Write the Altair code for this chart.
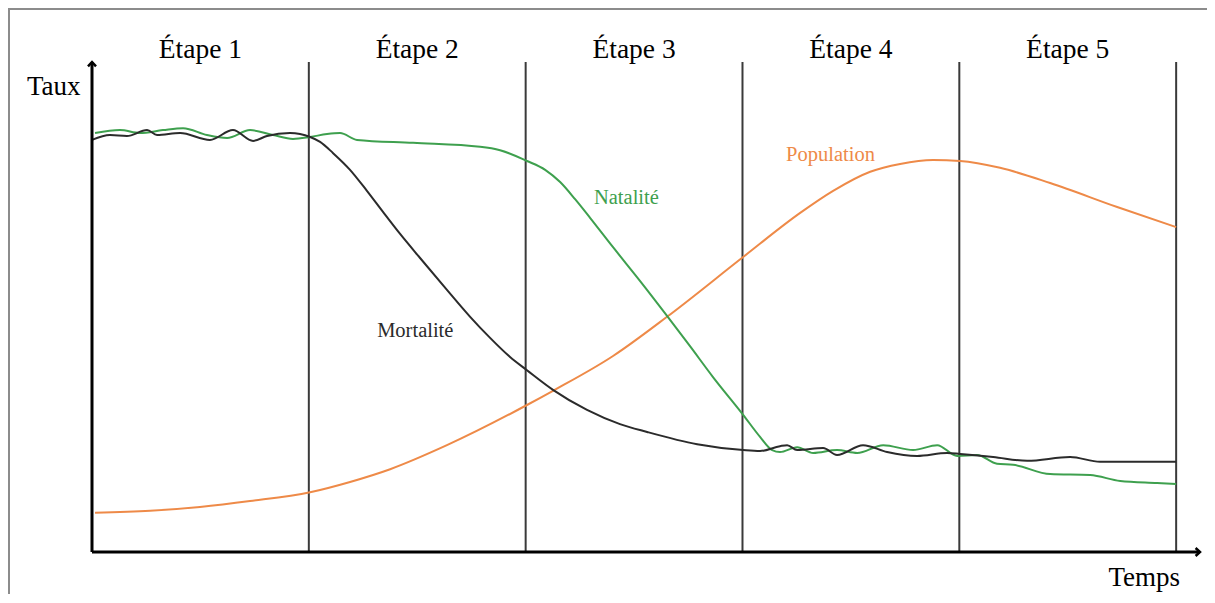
import altair as alt
import pandas as pd

# Time axis: each stage = 100 units (0..500), rate axis 0..100
mort_t = [0, 8.3, 16.1, 25.4, 30.0, 40.6, 54.4, 65.0, 74.3, 80.7, 91.3, 100.6, 105.2, 111.2,
          119.0, 126.8, 134.2, 142.1, 151.3, 163.7, 174.4, 183.6, 192.8, 200.6, 212.6, 228.3,
          243.5, 256.0, 279.1, 300.3, 308.1, 317.3, 320.6, 325.2, 337.2, 343.6, 355.6, 366.7,
          380.5, 394.4, 400.4, 415.6, 431.3, 451.1, 464.9, 500]
mort_v = [84.1, 85.1, 84.9, 86.1, 85.1, 85.5, 84.1, 86.1, 83.9, 84.9, 85.5, 84.7, 83.7, 81.4,
          78.0, 73.7, 69.4, 64.9, 60.0, 53.5, 48.0, 43.7, 39.8, 37.1, 33.1, 29.0,
          26.1, 24.5, 22.0, 20.8, 20.6, 21.6, 21.8, 20.8, 21.2, 19.8, 21.8, 20.4,
          19.6, 20.2, 20.0, 19.4, 18.6, 19.4, 18.4, 18.4]

nat_t = [1.4, 12.9, 22.1, 32.7, 42.0, 53.0, 62.3, 72.9, 83.5, 92.7, 100.6, 108.4, 114.4, 122.2,
         148.1, 179.0, 188.2, 200.6, 209.0, 215.9, 222.8, 229.7, 240.3, 252.8, 265.2, 275.8,
         286.4, 300.3, 308.1, 313.7, 317.3, 325.2, 332.6, 343.6, 352.9, 364.9, 378.7, 389.8,
         399.0, 408.2, 417.4, 424.8, 441.9, 460.3, 474.2, 491.2, 500]
nat_v = [85.5, 86.1, 85.5, 86.1, 86.5, 85.1, 84.5, 86.1, 85.1, 84.3, 84.7, 85.3, 85.5, 84.1,
         83.5, 82.7, 82.0, 79.8, 78.0, 75.5, 72.0, 68.2, 62.2, 55.3, 48.2, 42.0,
         35.7, 28.0, 23.5, 20.8, 20.4, 21.4, 20.2, 20.8, 20.2, 21.8, 20.8, 21.8,
         19.6, 19.8, 18.0, 17.8, 15.9, 15.7, 14.5, 14.1, 13.9]

pop_t = [1.4, 26.8, 49.8, 72.9, 100.6, 119.0, 137.5, 163.7, 200.6, 212.6, 240.3, 265.2,
         300.3, 326.6, 341.8, 358.9, 372.7, 387.9, 400.4, 418.8, 441.9, 472.8, 500]
pop_v = [8.0, 8.4, 9.2, 10.4, 12.2, 14.3, 16.9, 21.8, 30.0, 32.9, 40.0, 48.0,
         60.2, 69.2, 73.7, 77.6, 79.2, 80.0, 79.8, 78.4, 75.3, 70.4, 66.3]

stage_bounds = [100, 200, 300, 400, 500]
stage_centers = [50, 150, 250, 350, 450]
stage_labels = ["Étape 1", "Étape 2", "Étape 3", "Étape 4", "Étape 5"]

series_labels = ["Mortalité", "Natalité", "Population"]
series_label_t = [131.5, 231.5, 320.1]
series_label_v = [43.9, 71.0, 79.8]
series_colors = ["#2b2b2b", "#3ea04e", "#ee8a48"]

X_MAX = 511
Y_MAX = 100
FONT = "Liberation Serif"

xs = alt.Scale(domain=[0, X_MAX], nice=False, zero=False)
ys = alt.Scale(domain=[0, Y_MAX], nice=False, zero=False)


def X(f="t"):
    return alt.X(f"{f}:Q", scale=xs, axis=None)


def Y(f="v"):
    return alt.Y(f"{f}:Q", scale=ys, axis=None)


def curve(ts, vs, color):
    df = pd.DataFrame({"t": ts, "v": vs})
    return alt.Chart(df).mark_line(color=color, strokeWidth=2, interpolate="monotone").encode(
        x=X(), y=Y(), order="t:Q")


# stage separators
sep_df = pd.DataFrame({"t": stage_bounds, "v0": [0] * 5, "v1": [Y_MAX] * 5})
seps = alt.Chart(sep_df).mark_rule(color="#3a3a3a", strokeWidth=2).encode(
    x=X(), y=Y("v0"), y2="v1:Q")

# axes with arrows
yaxis_df = pd.DataFrame({"t": [0], "v0": [0], "v1": [Y_MAX]})
yaxis = alt.Chart(yaxis_df).mark_rule(color="black", strokeWidth=3).encode(
    x=X(), y=Y("v0"), y2="v1:Q")
xaxis_df = pd.DataFrame({"t0": [0], "t1": [X_MAX], "v": [0]})
xaxis = alt.Chart(xaxis_df).mark_rule(color="black", strokeWidth=3).encode(
    x=X("t0"), x2="t1:Q", y=Y())

up_df = pd.DataFrame({"t": [0], "v": [Y_MAX]})
up_arrow = alt.Chart(up_df).mark_point(
    shape="M-1,1.1 L0,0 L1,1.1", filled=False, color="black", strokeWidth=2.5,
    size=64, opacity=1).encode(x=X(), y=Y())
right_df = pd.DataFrame({"t": [X_MAX], "v": [0]})
right_arrow = alt.Chart(right_df).mark_point(
    shape="M-1.1,-1 L0,0 L-1.1,1", filled=False, color="black", strokeWidth=2.5,
    size=64, opacity=1).encode(x=X(), y=Y())

# stage titles
st_df = pd.DataFrame({"t": stage_centers, "v": [100.8] * 5, "label": stage_labels})
stage_text = alt.Chart(st_df).mark_text(
    font=FONT, fontSize=27.5, align="center", baseline="alphabetic", color="black").encode(
    x=X(), y=Y(), text="label:N")

# axis titles
ax_df = pd.DataFrame({"t": [-30.0], "v": [93.3], "label": ["Taux"]})
taux = alt.Chart(ax_df).mark_text(
    font=FONT, fontSize=27, align="left", baseline="alphabetic", color="black").encode(
    x=X(), y=Y(), text="label:N")
tx_df = pd.DataFrame({"t": [501.8], "v": [-7.0], "label": ["Temps"]})
temps = alt.Chart(tx_df).mark_text(
    font=FONT, fontSize=27, align="right", baseline="alphabetic", color="black").encode(
    x=X(), y=Y(), text="label:N")

# series labels
lab_df = pd.DataFrame({"t": series_label_t, "v": series_label_v,
                       "label": series_labels, "c": series_colors})
labels = alt.Chart(lab_df).mark_text(
    font=FONT, fontSize=20.5, align="left", baseline="alphabetic").encode(
    x=X(), y=Y(), text="label:N",
    color=alt.Color("c:N", scale=None, legend=None))

# outer frame (decorative border of the original picture)
frame_top = alt.Chart(up_df).mark_rule(color="#8c8c8c", strokeWidth=2).encode(
    x=alt.value(-84), x2=alt.value(1115), y=alt.value(-53))
frame_left = alt.Chart(up_df).mark_rule(color="#8c8c8c", strokeWidth=2).encode(
    x=alt.value(-83), y=alt.value(-54), y2=alt.value(540))

chart = alt.layer(
    frame_top, frame_left,
    seps,
    curve(pop_t, pop_v, series_colors[2]),
    curve(nat_t, nat_v, series_colors[1]),
    curve(mort_t, mort_v, series_colors[0]),
    yaxis, xaxis, up_arrow, right_arrow,
    stage_text, taux, temps, labels,
).properties(
    width=1108, height=490,
    padding={"left": 84, "top": 54, "right": 7, "bottom": 42},
    autosize="none",
    background="white",
).configure_view(stroke=None)

chart.save("out.html", embed_options={"renderer": "svg", "actions": False})
